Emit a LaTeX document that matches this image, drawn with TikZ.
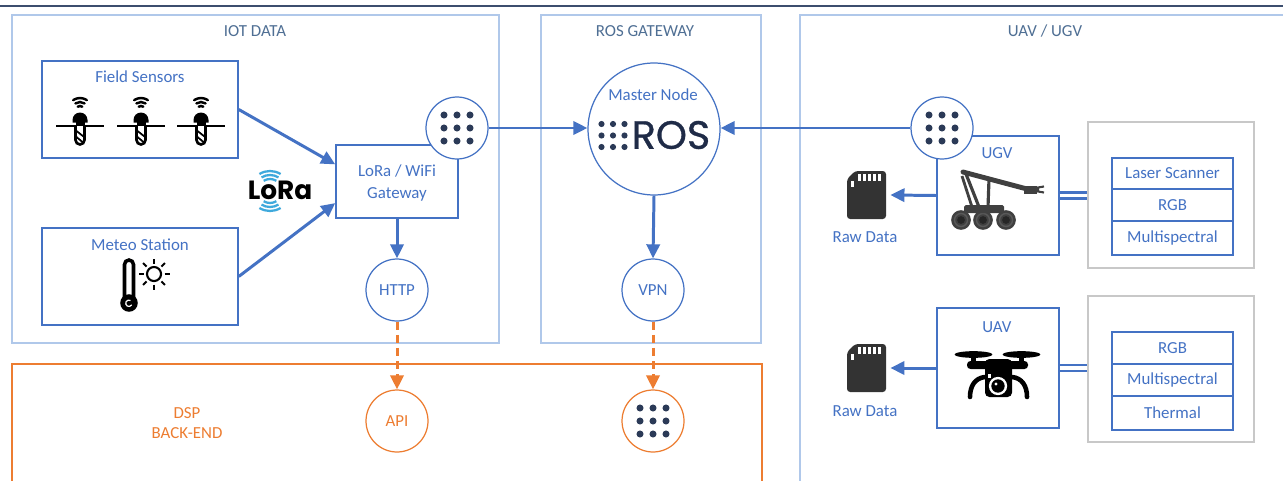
\documentclass[tikz,border=0pt]{standalone}
\usepackage{fontspec}
\setmainfont{Carlito}
\newfontfamily\logofont{Poppins}
\newfontfamily\roslogofont{Poppins}[FakeBold=0.8]
\usetikzlibrary{arrows.meta,fit,calc}

\definecolor{ublue}{HTML}{4472C4}
\definecolor{zoneline}{HTML}{B0C8EA}
\definecolor{ttlc}{HTML}{4F6F94}
\definecolor{dorange}{HTML}{ED7D31}
\definecolor{navy}{HTML}{2B3A57}
\definecolor{rosink}{HTML}{1F2B47}
\definecolor{gframe}{HTML}{C8C8C8}
\definecolor{lorablue}{HTML}{3FA9DC}
\definecolor{topline}{HTML}{3C4E6E}
\definecolor{sdgray}{HTML}{333333}
\definecolor{rgray}{HTML}{404040}

% 3x3 grid of dots: centre x, centre y, spacing, dot radius
\newcommand\ninedots[4]{%
  \foreach \i in {-1,0,1}{\foreach \j in {-1,0,1}{%
    \fill[navy] (#1+\i*#3, #2+\j*#3) circle[radius=#4];}}}

% soil probe with antenna, ground line centred at (#1,126)
\newcommand\fieldprobe[1]{%
  \begin{scope}[shift={(#1,126)}, y=0.02cm]
    \draw[line width=1.4pt] (-24,0) -- (24,0);
    \fill (-7.5,3.5) -- (-7.5,6) arc[start angle=180, end angle=0, radius=7.5] -- (7.5,3.5) -- cycle;
    \fill (-4.5,0) rectangle (4.5,4);
    \draw[line width=1.5pt, fill=white] (-4.5,0) -- (-4.5,-14) arc[start angle=180, end angle=360, radius=4.5] -- (4.5,0);
    \draw[line width=1pt] (-3.5,-5) -- (3.5,-10.5) (-3.5,-11) -- (3,-16.5);
    \foreach \r in {4,8,12}{\draw[line width=1.4pt, line cap=round] (0,16) ++(55:\r) arc[start angle=55, end angle=125, radius=\r];}
  \end{scope}}

% memory card, top-left corner at (#1,#2)
\newcommand\sdcard[2]{%
  \fill[sdgray, rounded corners=1.8pt] (#1+8,#2) -- (#1+39,#2) -- (#1+39,#2+48) -- (#1,#2+48) -- (#1,#2+8) -- cycle;
  \foreach \k in {0,...,4}{\fill[white] (#1+10.5+\k*5, #2+3) rectangle ++(3,7);}
  \fill[white] (#1+4,#2+10) rectangle ++(3,6);}

\begin{document}
\begin{tikzpicture}[x=0.02cm, y=-0.02cm,
  font=\fontsize{9.6}{11.5}\selectfont,
  zone/.style={draw=zoneline, line width=0.85pt, inner sep=0pt},
  ozone/.style={draw=dorange, line width=0.85pt, inner sep=0pt},
  box/.style={draw=ublue, line width=0.85pt, fill=white, inner sep=0pt},
  gbox/.style={draw=gframe, line width=0.8pt, inner sep=0pt},
  cell/.style={draw=ublue, line width=0.8pt, inner sep=0pt, text=ublue, minimum width=2.42cm},
  hub/.style={circle, draw=ublue, line width=0.7pt, fill=white, inner sep=0pt, minimum size=1.24cm, text=ublue},
  obub/.style={circle, draw=dorange, line width=0.7pt, fill=white, inner sep=0pt, minimum size=1.24cm, text=dorange},
  lbl/.style={text=ublue, inner sep=0pt},
  ttl/.style={text=ttlc, inner sep=0pt},
  flow/.style={draw=ublue, line width=1.7pt, -{Triangle[length=8pt,width=7.5pt]}},
  oflow/.style={draw=dorange, line width=1.7pt, dash pattern=on 4.5pt off 3pt, -{Triangle[length=8pt,width=7.5pt]}},
  link/.style={draw=ublue, line width=1.3pt, double=white},
]
\clip (0,0) rectangle (1283,480);
\fill[white] (0,0) rectangle (1283,480);

% rule across the top
\draw[topline, line width=0.8pt] (0,6) -- (1283,6);

% zones
\node[zone, fit={(12,15) (499,343)}] (iot) {};
\node[zone, fit={(541,15) (761,343)}] (rosz) {};
\node[zone, fit={(800,15) (1300,500)}] (robz) {};
\node[ozone, fit={(12,364) (762,500)}] (dspz) {};

\node[ttl] (t1) at (255,31) {IOT DATA};
\node[ttl] (t2) at (645,31) {ROS GATEWAY};
\node[ttl] (t3) at (1045,31) {UAV / UGV};

% field sensors
\node[box, fit={(42,61) (238,158)}] (fs) {};
\node[lbl] (fsl) at (140,77) {Field Sensors};
\fieldprobe{80}
\fieldprobe{141}
\fieldprobe{201}

% meteo station
\node[box, fit={(42,228) (238,325)}] (ms) {};
\node[lbl] (msl) at (140,245) {Meteo Station};
\begin{scope}[shift={(129,303)}, y=0.02cm]
  \draw[line width=2pt] (-4.5,4) -- (-4.5,38.5) arc[start angle=180, end angle=0, radius=4.5] -- (4.5,4);
  \fill (0,0) circle[radius=5pt];
  \fill (-2.5,0) rectangle (2.5,6);
  \draw[white, line width=0.7pt] (1.5,2.5) arc[start angle=60, end angle=330, radius=3.2];
  \draw[line width=1.2pt] (25,29) circle[radius=4pt];
  \foreach \a in {0,45,...,315}{\draw[line width=1.2pt] (25,29) ++(\a:10.5) -- ++(\a:5);}
\end{scope}

% LoRa mark
\node[inner sep=0pt, text=black, font=\logofont\bfseries\fontsize{15}{16}\selectfont] (lora) at (280,190) {LoRa};
\begin{scope}[shift={(270,191)}, y=0.02cm]
  \foreach \r in {12,16,20}{%
    \draw[lorablue, line width=1.3pt] (0,0) ++(58:\r) arc[start angle=58, end angle=122, radius=\r];
    \draw[lorablue, line width=1.3pt] (0,0) ++(238:\r) arc[start angle=238, end angle=302, radius=\r];}
\end{scope}

% gateway
\node[box, fit={(336,145) (458,218)}] (gw) {};
\node[lbl, align=center, font=\fontsize{9.6}{12}\selectfont] (gwl) at (397,183) {LoRa / WiFi\\Gateway};
\node[hub] (c1) at (457,128) {};
\ninedots{457}{128}{13}{2pt}
\node[hub] (http) at (397,290) {HTTP};

% ROS gateway
\node[circle, draw=ublue, line width=0.7pt, fill=white, inner sep=0pt, minimum size=2.64cm] (master) at (654,129) {};
\node[lbl] (mnl) at (653,95) {Master Node};
\ninedots{613}{135.5}{11.5}{1.75pt}
\node[inner sep=0pt, text=rosink, font=\roslogofont\fontsize{22.5}{23}\selectfont] (roslogo) at (671,135) {ROS};
\node[hub] (vpn) at (653,290) {VPN};

% back-end
\node[text=dorange, align=center, inner sep=0pt, font=\fontsize{9.6}{11.3}\selectfont] (dspl) at (187,423) {DSP\\BACK-END};
\node[obub] (api) at (397,421) {API};
\node[obub] (dsphub) at (653,421) {};
\ninedots{653}{421}{13}{2pt}

% UGV
\node[box, fit={(937,136) (1059,255)}] (ugv) {};
\node[lbl] (ugvl) at (997,153) {UGV};
\node[hub] (c2) at (942,128) {};
\ninedots{942}{128}{13}{2pt}
\begin{scope}[rgray]
  \foreach \wx in {961,983,1006}{%
    \fill (\wx,220) circle[radius=5.6pt];
    \draw[gray!70!black, line width=0.8pt] (\wx,220) circle[radius=3.7pt];
    \fill[black!85] (\wx,220) circle[radius=2.2pt];}
  \fill[rounded corners=1pt] (964,205) rectangle (1004,213);
  \draw[line width=1.8pt] (979,207) -- (966,174);
  \draw[line width=1.6pt] (972,207) -- (962,176);
  \draw[line width=1.8pt] (988,207) -- (989,179);
  \draw[line width=2.8pt, line cap=round] (963,172) -- (1027,189);
  \fill (1024,185.5) rectangle (1037,193.5);
  \draw[line width=1.2pt] (1044,186.5) -- (1038,187.5) -- (1038,191.5) -- (1044,192.5);
\end{scope}

% UAV
\node[box, fit={(937,308) (1059,428)}] (uav) {};
\node[lbl] (uavl) at (997,327) {UAV};
\begin{scope}
  \fill (973.5,354.5) ellipse[x radius=10.8pt, y radius=1.9pt];
  \fill (1021.5,354.5) ellipse[x radius=10.8pt, y radius=1.9pt];
  \fill (971,355) rectangle (976,366);
  \fill (1019,355) rectangle (1024,366);
  \fill[rounded corners=2pt] (967,361) rectangle (1028,369);
  \fill[rounded corners=2.5pt] (985,359) rectangle (1012,397);
  \fill[white] (998,386) circle[radius=5.2pt];
  \fill (998,386) circle[radius=3.8pt];
  \fill[white] (996,384) circle[radius=0.9pt];
  \fill[white] (988,374) rectangle (991,378);
  \draw[line width=2.6pt, line cap=round] (985,377) .. controls (975,378) and (970,386) .. (970,397);
  \draw[line width=2.6pt, line cap=round] (1012,377) .. controls (1022,378) and (1027,386) .. (1027,397);
\end{scope}

% memory cards
\sdcard{847}{171}
\node[inner sep=0pt, minimum width=0.78cm, minimum height=0.96cm] (sd1) at (866.5,195) {};
\node[lbl] (raw1) at (865,237) {Raw Data};
\sdcard{847}{344}
\node[inner sep=0pt, minimum width=0.78cm, minimum height=0.96cm] (sd2) at (866.5,368) {};
\node[lbl] (raw2) at (865,411) {Raw Data};

% payload stacks
\node[gbox, fit={(1088,122) (1254,268)}] (pay1) {};
\node[cell, minimum height=0.62cm] (ls) at (1172.5,173.5) {Laser Scanner};
\node[cell, minimum height=0.64cm] (rgb1) at (1172.5,205) {RGB};
\node[cell, minimum height=0.68cm] (ms1) at (1172.5,238) {Multispectral};
\node[gbox, fit={(1088,296) (1254,442)}] (pay2) {};
\node[cell, minimum height=0.64cm] (rgb2) at (1172.5,348) {RGB};
\node[cell, minimum height=0.64cm] (ms2) at (1172.5,380) {Multispectral};
\node[cell, minimum height=0.68cm] (th2) at (1172.5,413) {Thermal};

% connectors
\draw[flow] (fs.east) -- ($(gw.north west)!0.27!(gw.south west)$);
\draw[flow] (ms.east) -- ($(gw.north west)!0.79!(gw.south west)$);
\draw[flow] (gw.south) -- (http.north);
\draw[flow] (c1.east) -- (c1.east -| master.west);
\draw[flow] (c2.west) -- (c2.west -| master.east);
\draw[flow] (master.south) -- (vpn.north);
\draw[oflow] (http.south) -- (api.north);
\draw[oflow] (vpn.south) -- (dsphub.north);
\draw[flow] (ugv.west) -- ([xshift=2.3pt]sd1.east);
\draw[flow] (uav.west) -- ([xshift=2.3pt]sd2.east);
\draw[link, double distance=2.1pt] (ugv.east) -- (ugv.east -| pay1.west);
\draw[link, double distance=1.8pt] (uav.east) -- (uav.east -| pay2.west);
\end{tikzpicture}
\end{document}
